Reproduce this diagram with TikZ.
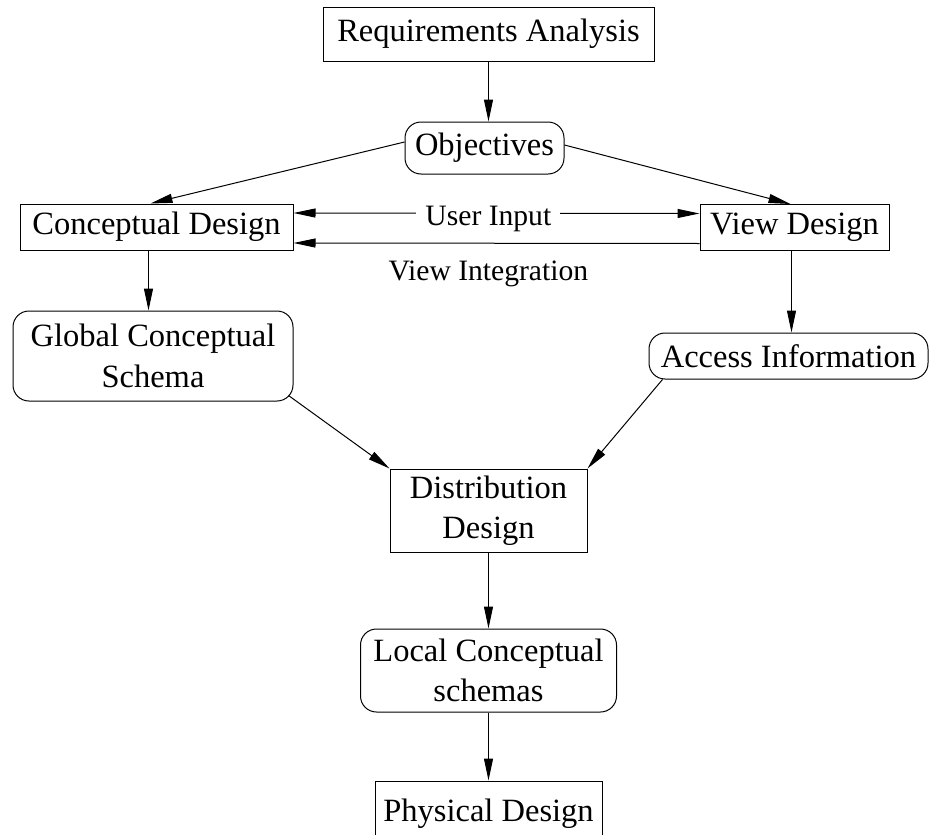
\documentclass[tikz,border=0pt]{standalone}
\usepackage{fontspec}
\setmainfont{Liberation Serif}
\usetikzlibrary{positioning,arrows.meta}

\begin{document}
\begin{tikzpicture}[
        x=1pt, y=-1pt,
        >={Triangle[length=22pt,width=9pt]},
        box_style/.style={draw=black, fill=white, rectangle, line width=1pt, inner sep=0pt, align=center, font=\fontsize{32.5}{40.5}\selectfont},
        round_style/.style={box_style, rounded corners=16pt},
        edge_style/.style={line width=1pt, ->},
        label_style/.style={font=\fontsize{29.6}{36}\selectfont}
    ]
    \useasboundingbox (0,0) rectangle (929,835);
    \clip (0,0) rectangle (929,835);

    % Top
    \node[box_style, minimum width=331pt, minimum height=54pt] (req) at (488.5,34) {Requirements Analysis};
    \node[round_style, minimum width=159pt, minimum height=52pt] (obj) at (484.5,148) {Objectives};

    % Design level
    \node[box_style, minimum width=273pt, minimum height=46pt] (cd) at (156.5,227) {Conceptual Design};
    \node[box_style, minimum width=189pt, minimum height=46pt] (vd) at (794.5,227.5) {View Design};

    % Schemas
    \node[round_style, minimum width=280pt, minimum height=90pt] (gcs) at (153,356) {Global Conceptual\\Schema};
    \node[round_style, minimum width=279pt, minimum height=46pt] (ai) at (788.5,356) {Access Information};

    % Lower chain
    \node[box_style, minimum width=197pt, minimum height=83pt] (dd) at (488.5,510.5) {Distribution\\Design};
    \node[round_style, below=76pt of dd, minimum width=256pt, minimum height=83pt] (lcs) {Local Conceptual\\schemas};
    \node[box_style, below=68pt of lcs, minimum width=227pt, minimum height=66pt, text height=24pt, text depth=9pt] (pd) {Physical Design};

    % Edges from the top
    \draw[edge_style] (req.south) -- (req.south |- obj.north);
    \draw[edge_style] ([yshift=6pt]obj.west) -- ([xshift=-6pt]cd.north);
    \draw[edge_style] ([yshift=3pt]obj.east) -- ([xshift=-4pt]vd.north);

    % Edges between the designs
    \draw[edge_style, <->] ([yshift=14pt]cd.east) -- node[label_style, pos=0.48, yshift=-6pt, fill=white, inner xsep=9pt, inner ysep=1pt] {User Input} ([yshift=14pt]vd.west);
    \draw[edge_style] ([yshift=-16pt]vd.west) -- node[label_style, pos=0.52, below=14pt] {View Integration} ([yshift=-16pt]cd.east);

    % Edges down to the schemas
    \draw[edge_style] ([xshift=-8pt]cd.south) -- ([xshift=-8pt]cd.south |- gcs.north);
    \draw[edge_style] ([xshift=-3pt]vd.south) -- ([xshift=-3pt]vd.south |- ai.north);
    \draw[edge_style] ([xshift=-5pt,yshift=6pt]gcs.south east) -- (dd.north west);
    \draw[edge_style] ([xshift=14pt]ai.south west) -- (dd.north east);

    % Edges down the chain
    \draw[edge_style] (dd.south) -- (lcs.north);
    \draw[edge_style] (lcs.south) -- (pd.north);

\end{tikzpicture}
\end{document}
